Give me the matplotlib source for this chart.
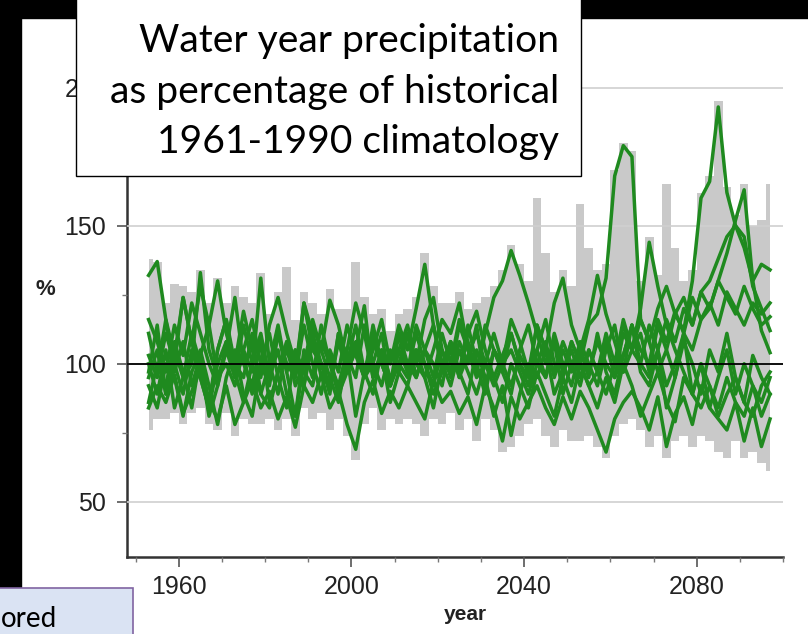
import numpy as np
import matplotlib.pyplot as plt
from matplotlib.patches import Rectangle
from matplotlib.ticker import MultipleLocator

# water years, sampled every 2 years
years = np.arange(1953, 2098, 2)

# individual model runs (% of 1961-1990 mean)
model_1 = [132, 137, 116, 97, 108, 92, 103, 86, 105, 116,
           100, 95, 111, 89, 100, 114, 97, 105, 92, 108,
           100, 89, 111, 103, 95, 114, 100, 92, 105, 97,
           111, 100, 116, 124, 105, 95, 108, 100, 114, 92,
           105, 97, 89, 105, 114, 100, 95, 108, 89, 100,
           105, 95, 111, 97, 89, 103, 114, 97, 92, 105,
           84, 95, 108, 100, 89, 105, 97, 111, 95, 86,
           103, 95, 89]
model_2 = [95, 105, 89, 100, 124, 108, 95, 84, 105, 116,
           97, 86, 100, 111, 95, 105, 89, 81, 100, 114,
           105, 95, 86, 103, 81, 97, 108, 100, 92, 111,
           100, 95, 105, 114, 97, 105, 95, 111, 119, 105,
           95, 103, 111, 100, 92, 105, 116, 100, 95, 108,
           100, 114, 118, 131, 168, 179, 175, 116, 108, 97,
           105, 95, 111, 89, 100, 84, 95, 105, 89, 100,
           92, 81, 89]
model_3 = [100, 89, 105, 84, 95, 111, 100, 81, 92, 105,
           95, 114, 100, 89, 84, 97, 108, 92, 100, 111,
           95, 103, 89, 100, 114, 97, 89, 105, 95, 100,
           111, 95, 105, 100, 92, 108, 97, 114, 100, 89,
           105, 97, 111, 100, 95, 114, 105, 97, 108, 100,
           92, 105, 97, 111, 100, 116, 105, 111, 97, 114,
           105, 118, 112, 130, 160, 166, 193, 162, 150, 146,
           128, 120, 112]
model_4 = [86, 100, 92, 108, 97, 84, 103, 114, 95, 105,
           124, 100, 92, 108, 86, 97, 105, 95, 114, 100,
           89, 105, 97, 114, 103, 95, 111, 100, 92, 105,
           97, 111, 100, 92, 105, 97, 114, 105, 95, 100,
           111, 100, 92, 103, 97, 105, 95, 111, 100, 92,
           105, 97, 108, 100, 95, 111, 105, 100, 114, 105,
           116, 108, 120, 114, 126, 130, 138, 146, 150, 142,
           130, 136, 134]
model_5 = [92, 84, 100, 95, 81, 97, 105, 92, 78, 95,
           105, 89, 81, 100, 95, 111, 97, 81, 105, 95,
           114, 100, 92, 105, 122, 111, 95, 103, 86, 97,
           92, 105, 95, 84, 100, 108, 97, 89, 105, 95,
           81, 92, 74, 89, 100, 95, 105, 89, 97, 108,
           100, 92, 97, 108, 95, 103, 114, 100, 95, 105,
           92, 100, 111, 105, 116, 120, 130, 140, 152, 163,
           130, 112, 104]
model_6 = [116, 108, 97, 114, 103, 122, 111, 100, 92, 108,
           97, 105, 116, 100, 92, 111, 100, 95, 122, 111,
           100, 92, 108, 97, 105, 95, 114, 100, 92, 105,
           114, 100, 95, 105, 116, 111, 122, 105, 97, 111,
           124, 130, 141, 132, 122, 111, 100, 108, 97, 105,
           95, 105, 97, 89, 100, 114, 105, 120, 144, 128,
           114, 105, 97, 89, 100, 92, 84, 95, 86, 81,
           92, 86, 95]
model_7 = [84, 92, 86, 96, 82, 90, 98, 86, 80, 92,
           78, 86, 94, 84, 90, 80, 88, 77, 92, 86,
           96, 84, 90, 78, 69, 86, 94, 82, 90, 84,
           92, 86, 80, 94, 86, 90, 82, 88, 78, 92,
           84, 72, 88, 80, 86, 92, 84, 78, 88, 80,
           90, 84, 76, 68, 80, 86, 90, 84, 76, 88,
           70, 82, 88, 78, 92, 84, 80, 76, 86, 72,
           84, 70, 80]
model_8 = [111, 97, 116, 103, 124, 108, 128, 114, 130, 111,
           100, 119, 105, 95, 114, 124, 111, 100, 92, 116,
           105, 123, 114, 100, 108, 95, 105, 116, 100, 111,
           97, 114, 105, 95, 111, 100, 116, 108, 97, 114,
           105, 100, 116, 108, 97, 114, 105, 122, 131, 114,
           105, 116, 132, 118, 108, 97, 114, 105, 100, 116,
           108, 119, 111, 124, 116, 122, 114, 126, 120, 114,
           122, 118, 122]
model_9 = [97, 114, 89, 105, 95, 100, 133, 105, 95, 100,
           92, 105, 97, 131, 100, 89, 108, 97, 122, 105,
           100, 92, 111, 100, 105, 121, 95, 105, 100, 114,
           105, 120, 136, 114, 100, 92, 105, 97, 89, 100,
           95, 86, 100, 92, 84, 97, 89, 81, 95, 86,
           100, 92, 84, 95, 86, 100, 92, 81, 89, 97,
           86, 79, 95, 89, 84, 92, 81, 89, 95, 86,
           81, 92, 97]
model_10 = [103, 95, 111, 100, 89, 105, 95, 84, 100, 108,
            95, 103, 89, 100, 111, 95, 84, 105, 97, 92,
            108, 100, 89, 97, 105, 95, 100, 111, 92, 100,
            95, 105, 100, 89, 97, 108, 95, 103, 111, 100,
            92, 100, 105, 97, 89, 100, 108, 95, 105, 97,
            108, 100, 92, 105, 114, 97, 105, 116, 108, 120,
            128, 118, 124, 114, 126, 120, 130, 124, 118, 128,
            120, 114, 117]

# full-ensemble range (grey bars)
range_upper = [138, 137, 122, 129, 128, 126, 134, 122, 131, 122,
               128, 124, 122, 133, 118, 126, 135, 116, 126, 122,
               118, 127, 120, 120, 137, 124, 118, 120, 112, 118,
               120, 124, 140, 128, 122, 122, 126, 120, 122, 124,
               128, 134, 143, 136, 130, 160, 140, 126, 134, 128,
               158, 142, 134, 136, 170, 180, 177, 130, 146, 132,
               165, 142, 130, 134, 162, 168, 195, 164, 154, 165,
               150, 152, 165]
range_lower = [76, 80, 80, 82, 78, 82, 84, 78, 76, 82,
               74, 80, 78, 78, 80, 76, 80, 74, 84, 80,
               82, 76, 80, 74, 65, 78, 84, 76, 80, 78,
               80, 78, 74, 80, 78, 82, 76, 80, 72, 80,
               76, 68, 70, 74, 78, 80, 74, 70, 76, 72,
               72, 74, 70, 66, 74, 78, 80, 76, 70, 74,
               66, 72, 74, 70, 74, 72, 68, 66, 72, 66,
               68, 64, 61]

models = [model_1, model_2, model_3, model_4, model_5, model_6, model_7, model_8, model_9, model_10]

W, H = 808, 634
fig = plt.figure(figsize=(W / 100, H / 100), dpi=100)
fig.patch.set_facecolor('white')

ax = fig.add_axes([127 / W, 77 / H, (783 - 127) / W, 497 / H])
ax.fill_between(years, range_lower, range_upper, step='mid', color='#c9c9c9', lw=0, zorder=1)
for m in models:
    ax.plot(years, m, color='#1f8a1f', lw=2.5, zorder=3, solid_joinstyle='round')
ax.axhline(100, color='black', lw=1.3, zorder=4)

ax.set_xlim(1948, 2100)
ax.set_ylim(30, 210)
ax.xaxis.set_major_locator(MultipleLocator(40))
ax.xaxis.set_minor_locator(MultipleLocator(10))
ax.yaxis.set_major_locator(MultipleLocator(50))
ax.yaxis.set_minor_locator(MultipleLocator(25))
ax.yaxis.grid(True, which='major', color='#d0d0d0', lw=1.2, zorder=2)
ax.set_axisbelow(False)

for s in ['top', 'right']:
    ax.spines[s].set_visible(False)
for s in ['left', 'bottom']:
    ax.spines[s].set_color('#333333')
    ax.spines[s].set_linewidth(1.8)

ax.tick_params(which='major', direction='out', length=7, width=1.2, color='#555555',
               labelsize=18, labelcolor='#222222')
ax.tick_params(which='minor', direction='out', length=3.5, width=1.0, color='#777777')
ax.tick_params(axis='x', which='major', pad=6)
ax.tick_params(axis='y', which='major', pad=8)
for lab in ax.get_xticklabels() + ax.get_yticklabels():
    lab.set_family('Liberation Sans')

fig.text(45 / W, 1 - 289 / H, '%', ha='center', va='center', size=16, weight='bold',
         family='Liberation Sans', color='#222222')
fig.text(465 / W, 1 - 614 / H, 'year', ha='center', va='center', size=15, weight='bold',
         family='Liberation Sans', color='#222222')

# black frame strips
fig.patches.append(Rectangle((0, 0), 21 / W, 1, transform=fig.transFigure, color='black', zorder=5))
fig.patches.append(Rectangle((0, 1 - 18 / H), 1, 18 / H, transform=fig.transFigure, color='black', zorder=5))

# title box
fig.patches.append(Rectangle((75.5 / W, 1 - 176 / H), (581 - 75.5) / W, 180 / H, transform=fig.transFigure,
                             facecolor='white', edgecolor='black', lw=1.0, zorder=6))
title_lines = ['Water year precipitation', 'as percentage of historical', '1961-1990 climatology']
baselines = [52, 103, 153]
texts = [fig.text(559 / W, 1 - b / H, t, ha='right', va='baseline', size=27, family='Lato',
                  color='black', zorder=7) for t, b in zip(title_lines, baselines)]
fig.canvas.draw()
w = texts[1].get_window_extent(fig.canvas.get_renderer()).width
for t in texts:
    t.set_fontsize(27 * 450 / w)

# bottom-left box
fig.patches.append(Rectangle((-2 / W, -2 / H), 135 / W, 48 / H, transform=fig.transFigure,
                             facecolor='#dae3f3', edgecolor='#8064a2', lw=1.2, zorder=6))
fig.text(1 / W, 1 - 627 / H, 'ored', ha='left', va='baseline', size=20, family='Lato',
         color='black', zorder=7)

fig.savefig('out.png', dpi=100)
